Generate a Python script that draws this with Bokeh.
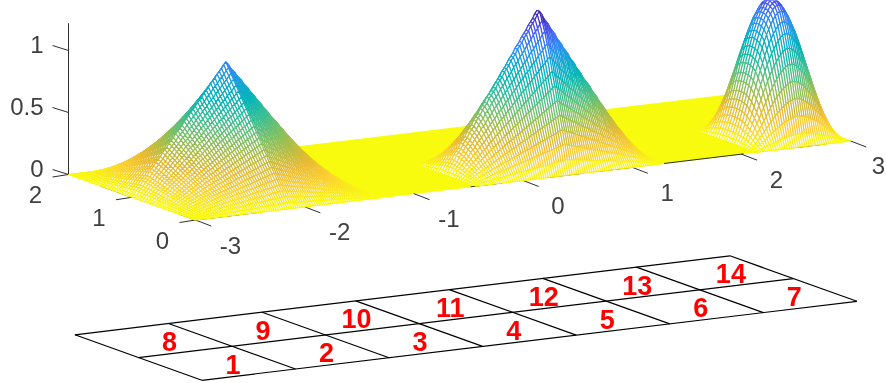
from bokeh.plotting import figure
from bokeh.embed import file_html
from bokeh.resources import INLINE
from bokeh.core.properties import value
from bokeh.models import Range1d
import numpy as np

# Height profiles, one value per mesh line
# (rising half only; each hump is mirror-symmetric).
tent_x_half = [.00,.02,.05,.07,.09,.12,.14,.16,.19,.21,.23,.26,.28,.30,.33,.35,.37,.40,.42,.44,.47,.49,
               .51,.53,.56,.58,.60,.63,.65,.67,.70,.72,.74,.77,.79,.81,.84,.86,.88,.91,.93,.95,.98,1.0]
tent_y_half = [.00,.04,.08,.12,.16,.20,.24,.28,.32,.36,.40,.44,.48,.52,.56,.60,.64,.68,.72,.76,.80,.84,.88,.92,.96,1.0]
ridge_y_half = [0,.115,.23,.34,.45,.56,.67,.78,.89,.99,1.08,1.16,1.23]
bell_x_half = [0,.03,.07,.12,.17,.23,.29,.35,.42,.48,.55,.61,.67,.73,.78,.83,.87,.91,.94,.97,.99,1.0]
bell_y_half = [0,.09,.21,.33,.45,.57,.68,.78,.86,.93,.97,.99,1.0]

hump_x_start = [-3.0, -0.43, 2.14]
hump_amplitude = [1.0, 1.0, 1.1]
x_step, y_step = 0.02, 0.04

x_ticks = [-3, -2, -1, 0, 1, 2, 3]
y_ticks = [0, 1, 2]
z_ticks = [0, 0.5, 1]
z_top = 1.22
x_axis_visible = [(-2.95, -2.40), (-0.48, -0.19), (0.22, 0.55), (0.68, 1.01), (1.29, 1.72), (1.72, 2.02), (2.51, 2.77)]
y_axis_visible = [(0, 0.24), (1.0, 1.5)]

element_labels_front = ["1", "2", "3", "4", "5", "6", "7"]
element_labels_back = ["8", "9", "10", "11", "12", "13", "14"]
n_elements_x, n_elements_y = 7, 2

parula_stops = [0, .1, .2, .3, .4, .5, .6, .7, .8, .9, 1]
parula_r = [62, 72, 46, 20, 2, 50, 110, 172, 232, 252, 249]
parula_g = [38, 82, 135, 165, 180, 190, 192, 190, 186, 210, 251]
parula_b = [168, 244, 247, 215, 185, 150, 110, 70, 50, 48, 14]
z_colour_max = 1.2
TEXT = "#404040"
AXIS = "#303030"


def sx(x, y):
    return 195 + (np.asarray(x) + 3) * 109.17 - np.asarray(y) * 63.5


def sy(x, y, z=0.0):
    return 219.5 - (np.asarray(x) + 3) * 13.17 - np.asarray(y) * 22.75 - np.asarray(z) * 124


def colour(z):
    t = max(1 - z / z_colour_max, 0)
    return "#%02x%02x%02x" % (int(np.interp(t, parula_stops, parula_r)),
                              int(np.interp(t, parula_stops, parula_g)),
                              int(np.interp(t, parula_stops, parula_b)))


p = figure(width=886, height=383, output_backend="svg", toolbar_location=None,
           x_range=Range1d(0, 886), y_range=Range1d(383, 0), min_border=0,
           outline_line_color=None, border_fill_color="white")
p.styles = {"position": "fixed", "left": "0px", "top": "0px"}
p.axis.visible = False
p.grid.visible = False

# yellow flat part of the surface
p.patch(sx([-3, 3, 3, -3], [0, 0, 2, 2]), sy([-3, 3, 3, -3], [0, 0, 2, 2]),
        fill_color=colour(0), line_color=colour(0), line_width=1)

# axes lying on the surface
for a, b in x_axis_visible:
    p.line(sx([a, b], [0, 0]), sy([a, b], [0, 0]), line_color=AXIS, line_width=1)
for a, b in y_axis_visible:
    p.line(sx([-3, -3], [a, b]), sy([-3, -3], [a, b]), line_color=AXIS, line_width=1)
p.line(sx([-3, -3], [2, 2]), sy([-3, -3], [2, 2], [0, z_top]), line_color=AXIS, line_width=1)

# ticks and tick labels
for t in x_ticks:
    x0, y0 = float(sx(t, 0)), float(sy(t, 0))
    p.line([x0, x0 + 15.7], [y0, y0 + 6], line_color=AXIS, line_width=1)
    p.text([x0 + (28 if t == 3 else 35)], [y0 + 25], text=[str(t)], text_font=value("Liberation Sans"),
           text_font_size="24px", text_color=TEXT, text_align="center", text_baseline="middle")
for t in y_ticks:
    x0, y0 = float(sx(-3, t)), float(sy(-3, t))
    p.line([x0, x0 - 16], [y0, y0 + 2.5], line_color=AXIS, line_width=1)
    p.text([x0 - 33], [y0 + 20], text=[str(t)], text_font=value("Liberation Sans"), text_font_size="24px",
           text_color=TEXT, text_align="center", text_baseline="middle")
for t in z_ticks:
    x0, y0 = float(sx(-3, 2)), float(sy(-3, 2, t))
    p.line([x0, x0 - 16], [y0, y0 - 5], line_color=AXIS, line_width=1)
    p.text([x0 - 25], [y0 - 6.5], text=[f"{t:g}"], text_font=value("Liberation Sans"), text_font_size="24px",
           text_color=TEXT, text_align="right", text_baseline="middle")

# humps: back-to-front white-filled mesh cells with coloured edges
humps = [(tent_x_half, tent_y_half), (tent_x_half, ridge_y_half), (bell_x_half, bell_y_half)]
xs_all, ys_all, cols = [], [], []
for (fx_half, fy_half), x0, amp in zip(humps, hump_x_start, hump_amplitude):
    if len(fy_half) == len(tent_y_half):
        fy = np.array(fy_half + fy_half[-2::-1])
    else:
        fy = np.array(fy_half + fy_half[::-1])
    fx = np.array(fx_half + (fx_half[-2::-1] if len(fx_half) == len(tent_x_half) else fx_half[::-1]))
    X = x0 + x_step * np.arange(len(fx))
    Y = y_step * np.arange(len(fy))
    Z = amp * np.outer(fx, fy)
    for j in range(len(Y) - 2, -1, -1):
        for i in range(len(X) - 2, -1, -1):
            qx = [X[i], X[i + 1], X[i + 1], X[i]]
            qy = [Y[j], Y[j], Y[j + 1], Y[j + 1]]
            qz = [Z[i, j], Z[i + 1, j], Z[i + 1, j + 1], Z[i, j + 1]]
            xs_all.append(sx(qx, qy).tolist())
            ys_all.append(sy(qx, qy, qz).tolist())
            cols.append(colour(float(np.mean(qz))))
p.patches(xs_all, ys_all, fill_color="white", line_color=cols, line_width=1.15)

# element grid below
dx, dy = 6.4, 160.3
x_nodes = -3 + (6 / n_elements_x) * np.arange(n_elements_x + 1)
y_nodes = (2 / n_elements_y) * np.arange(n_elements_y + 1)
for xn in x_nodes:
    p.line(sx([xn, xn], [0, 2]) + dx, sy([xn, xn], [0, 2]) + dy, line_color="black", line_width=1.2)
for yn in y_nodes:
    p.line(sx([-3, 3], [yn, yn]) + dx, sy([-3, 3], [yn, yn]) + dy, line_color="black", line_width=1.2)
for row, labels in enumerate([element_labels_front, element_labels_back]):
    ex = (x_nodes[:-1] + x_nodes[1:]) / 2
    ey = np.full(len(ex), (y_nodes[row] + y_nodes[row + 1]) / 2)
    p.text(sx(ex, ey) + dx + 16, sy(ex, ey) + dy + 1, text=labels, text_font=value("Liberation Sans"),
           text_font_size="27px", text_font_style="bold", text_color="#ff0000",
           text_align="center", text_baseline="middle")

open("out.html", "w").write(file_html(p, INLINE))
